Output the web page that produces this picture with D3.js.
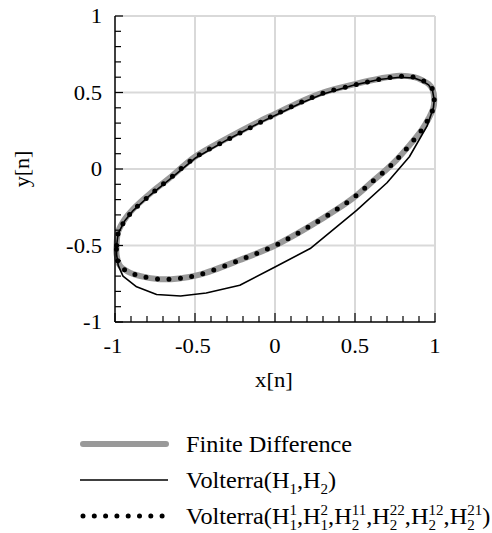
<!DOCTYPE html>
<html>
<head>
<meta charset="utf-8">
<script src="https://cdn.jsdelivr.net/npm/d3@7"></script>
<style>
  body { margin: 0; background: #fff; }
  svg { display: block; }
  svg text { font-family: "Liberation Serif", "DejaVu Serif", serif; fill: #000; }
</style>
</head>
<body>
<div id="chart"></div>
<script>
// Finite Difference
var fdX = [-0.99, -0.98, -0.94, -0.885, -0.78, -0.66, -0.5, -0.3, -0.1, 0, 0.16, 0.3, 0.5, 0.65, 0.78, 0.87, 0.92, 0.96, 0.985, 0.995, 0.99, 0.96, 0.917, 0.833, 0.76, 0.70, 0.6, 0.5, 0.385, 0.2, 0, -0.22, -0.47, -0.6, -0.72, -0.84, -0.92, -0.97, -0.99, -0.99];
var fdY = [-0.50, -0.41, -0.33, -0.26, -0.16, -0.06, 0.08, 0.20, 0.31, 0.36, 0.44, 0.50, 0.555, 0.59, 0.61, 0.60, 0.58, 0.555, 0.52, 0.46, 0.40, 0.33, 0.255, 0.146, 0.06, 0.0, -0.09, -0.18, -0.265, -0.385, -0.50, -0.595, -0.69, -0.715, -0.72, -0.70, -0.67, -0.63, -0.56, -0.50];

// Volterra(H1,H2)
var v1X = [-0.99, -0.98, -0.94, -0.885, -0.78, -0.66, -0.5, -0.3, -0.1, 0, 0.16, 0.3, 0.5, 0.65, 0.78, 0.87, 0.92, 0.96, 0.985, 0.995, 0.99, 0.95, 0.84, 0.70, 0.51, 0.22, 0, -0.22, -0.43, -0.59, -0.74, -0.865, -0.95, -0.98, -0.99, -0.99];
var v1Y = [-0.50, -0.42, -0.34, -0.27, -0.17, -0.07, 0.07, 0.19, 0.30, 0.35, 0.43, 0.49, 0.55, 0.585, 0.60, 0.595, 0.575, 0.55, 0.51, 0.45, 0.40, 0.28, 0.08, -0.09, -0.27, -0.52, -0.64, -0.76, -0.81, -0.83, -0.82, -0.77, -0.70, -0.63, -0.56, -0.50];

// Volterra(all kernels)
var v2X = [-0.99, -0.98, -0.94, -0.885, -0.78, -0.66, -0.5, -0.3, -0.1, 0, 0.16, 0.3, 0.5, 0.65, 0.78, 0.87, 0.92, 0.96, 0.985, 0.995, 0.99, 0.96, 0.917, 0.833, 0.76, 0.70, 0.6, 0.5, 0.385, 0.2, 0, -0.22, -0.47, -0.6, -0.72, -0.84, -0.92, -0.97, -0.99, -0.99];
var v2Y = [-0.50, -0.42, -0.34, -0.27, -0.17, -0.065, 0.075, 0.19, 0.30, 0.355, 0.435, 0.495, 0.55, 0.585, 0.605, 0.60, 0.58, 0.555, 0.52, 0.46, 0.40, 0.33, 0.255, 0.146, 0.06, 0.0, -0.09, -0.18, -0.265, -0.385, -0.50, -0.595, -0.69, -0.715, -0.72, -0.70, -0.67, -0.63, -0.56, -0.50];

var majorTicks = [-1, -0.5, 0, 0.5, 1];
var tickLabels = ["-1", "-0.5", "0", "0.5", "1"];

var xTitle = "x[n]";
var yTitle = "y[n]";

// legend labels: plain text pieces and {sup, sub} pieces
var legendLabels = [
  [{t: "Finite Difference"}],
  [{t: "Volterra(H"}, {sub: "1"}, {t: ",H"}, {sub: "2"}, {t: ")"}],
  [{t: "Volterra(H"}, {sup: "1", sub: "1"}, {t: ",H"}, {sup: "2", sub: "1"}, {t: ",H"},
   {sup: "11", sub: "2"}, {t: ",H"}, {sup: "22", sub: "2"}, {t: ",H"}, {sup: "12", sub: "2"},
   {t: ",H"}, {sup: "21", sub: "2"}, {t: ")"}]
];

var svgWidth = 492;
var svgHeight = 533;
var sx = 1.08; // text looks a bit stretched horizontally
var serif = "'Liberation Serif', 'DejaVu Serif', serif";

var plot = {left: 115, right: 435, top: 16, bottom: 322};

var svg = d3.select("#chart")
  .append("svg")
  .attr("width", svgWidth)
  .attr("height", svgHeight)
  .attr("font-family", serif);

var x = d3.scaleLinear().domain([-1, 1]).range([plot.left, plot.right]);
var y = d3.scaleLinear().domain([-1, 1]).range([plot.bottom, plot.top]);

function addText(g, px, py, str, size, anchor) {
  return g.append("text")
    .attr("transform", `translate(${px},${py}) scale(${sx},1)`)
    .attr("font-family", serif)
    .attr("font-size", size)
    .attr("text-anchor", anchor || "start")
    .text(str);
}

// grid
var grid = svg.append("g");
grid.selectAll(".gx")
  .data(majorTicks.slice(1))
  .enter()
  .append("line")
  .attr("x1", d => x(d)).attr("x2", d => x(d))
  .attr("y1", plot.top).attr("y2", plot.bottom)
  .attr("stroke", "#d9d9d9").attr("stroke-width", 2);
grid.selectAll(".gy")
  .data(majorTicks.slice(1))
  .enter()
  .append("line")
  .attr("y1", d => y(d)).attr("y2", d => y(d))
  .attr("x1", plot.left).attr("x2", plot.right)
  .attr("stroke", "#d9d9d9").attr("stroke-width", 2);

// curves
var lineSmooth = d3.line().x(d => x(d[0])).y(d => y(d[1])).curve(d3.curveCatmullRom);
var lineFlat = d3.line().x(d => x(d[0])).y(d => y(d[1]));

svg.append("path")
  .attr("d", lineSmooth(d3.zip(fdX, fdY)))
  .attr("fill", "none")
  .attr("stroke", "#999")
  .attr("stroke-width", 6)
  .attr("stroke-linejoin", "round");

svg.append("path")
  .attr("d", lineFlat(d3.zip(v1X, v1Y)))
  .attr("fill", "none")
  .attr("stroke", "#000")
  .attr("stroke-width", 1.6)
  .attr("stroke-linejoin", "round");

svg.append("path")
  .attr("d", lineSmooth(d3.zip(v2X, v2Y)))
  .attr("fill", "none")
  .attr("stroke", "#000")
  .attr("stroke-width", 5)
  .attr("stroke-linecap", "round")
  .attr("stroke-dasharray", "0,11.5");

// axes (ticks inward)
var minor = x.ticks(20);
var axes = svg.append("g").attr("stroke", "#000");
axes.append("line")
  .attr("x1", plot.left).attr("x2", plot.left)
  .attr("y1", plot.top).attr("y2", plot.bottom)
  .attr("stroke-width", 1.5);
axes.append("line")
  .attr("x1", plot.left).attr("x2", plot.right + 0.5)
  .attr("y1", plot.bottom).attr("y2", plot.bottom)
  .attr("stroke-width", 1.5);

axes.selectAll(".ty")
  .data(minor)
  .enter()
  .append("line")
  .attr("x1", plot.left)
  .attr("x2", d => plot.left + (majorTicks.indexOf(d) >= 0 ? 8 : 6))
  .attr("y1", d => y(d)).attr("y2", d => y(d))
  .attr("stroke-width", 1.2);

axes.selectAll(".tx")
  .data(minor)
  .enter()
  .append("line")
  .attr("y1", plot.bottom)
  .attr("y2", d => plot.bottom - (majorTicks.indexOf(d) >= 0 ? 9 : 6))
  .attr("x1", d => x(d)).attr("x2", d => x(d))
  .attr("stroke-width", 1.2);

// tick labels
majorTicks.forEach(function(t, i) {
  addText(svg, plot.left - 13, y(t) + 7, tickLabels[i], 21, "end");
  addText(svg, x(t) - (t < 0 ? 2 : 0), plot.bottom + 31, tickLabels[i], 21, "middle");
});

// axis titles
addText(svg, 274, 387, xTitle, 21, "middle");
svg.append("text")
  .attr("transform", "translate(29,169) rotate(-90) scale(1.05,1)")
  .attr("font-family", serif)
  .attr("font-size", 21)
  .attr("text-anchor", "middle")
  .text(yTitle);

// legend
var legendRowsY = [444, 480, 516];
var legX1 = 83, legX2 = 166, legTextX = 186;
var leg = svg.append("g");

leg.append("line")
  .attr("x1", legX1).attr("x2", legX2)
  .attr("y1", legendRowsY[0]).attr("y2", legendRowsY[0])
  .attr("stroke", "#999").attr("stroke-width", 6).attr("stroke-linecap", "round");
leg.append("line")
  .attr("x1", legX1 - 3).attr("x2", legX2 + 2)
  .attr("y1", legendRowsY[1]).attr("y2", legendRowsY[1])
  .attr("stroke", "#000").attr("stroke-width", 1.6);
leg.append("line")
  .attr("x1", legX1).attr("x2", legX2)
  .attr("y1", legendRowsY[2]).attr("y2", legendRowsY[2])
  .attr("stroke", "#000").attr("stroke-width", 5)
  .attr("stroke-linecap", "round").attr("stroke-dasharray", "0,11.3");

function richText(parent, px, py, parts, size) {
  var g = parent.append("g").attr("transform", `translate(${px},${py}) scale(${sx},1)`);
  var cx = 0;
  var small = size * 0.62;
  parts.forEach(function(p) {
    if (p.t !== undefined) {
      var el = g.append("text").attr("x", cx).attr("font-family", serif).attr("font-size", size).text(p.t);
      cx += el.node().getComputedTextLength();
    } else {
      var w = 0;
      if (p.sup) {
        var s1 = g.append("text").attr("x", cx).attr("y", -size * 0.42).attr("font-family", serif).attr("font-size", small).text(p.sup);
        w = Math.max(w, s1.node().getComputedTextLength());
      }
      if (p.sub) {
        var s2 = g.append("text").attr("x", cx).attr("y", size * 0.25).attr("font-family", serif).attr("font-size", small).text(p.sub);
        w = Math.max(w, s2.node().getComputedTextLength());
      }
      cx += w;
    }
  });
}

legendLabels.forEach(function(parts, i) {
  richText(leg, legTextX, legendRowsY[i] + 8, parts, 22.5);
});
</script>
</body>
</html>
